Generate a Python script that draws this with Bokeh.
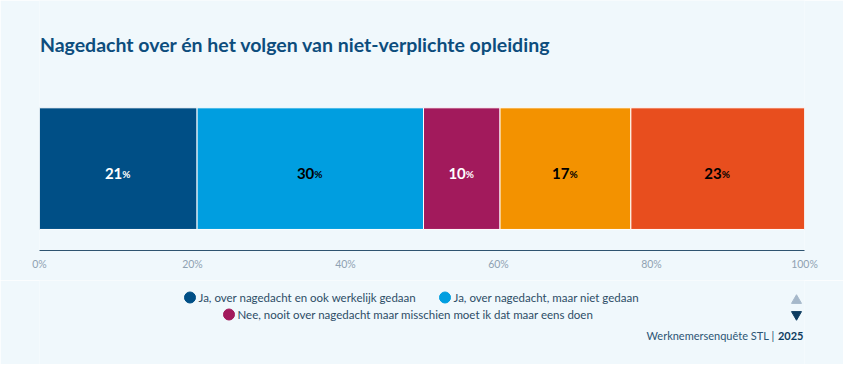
from bokeh.plotting import figure
from bokeh.models import ColumnDataSource, Range1d, Label, LinearAxis, FixedTicker
from bokeh.layouts import column
from bokeh.core.properties import value
from bokeh.embed import file_html
from bokeh.resources import INLINE

# ---- data ----
series_values = [20.6, 29.6, 10.0, 17.1, 22.7]
series_colors = ["#004f86", "#009ee0", "#a21a5c", "#f39200", "#e84e1e"]
label_colors = ["#ffffff", "#000000", "#ffffff", "#000000", "#000000"]
legend_labels = [
    "Ja, over nagedacht en ook werkelijk gedaan",
    "Ja, over nagedacht, maar niet gedaan",
    "Nee, nooit over nagedacht maar misschien moet ik dat maar eens doen",
]
tick_values = [0, 20, 40, 60, 80, 100]
tick_labels = ["0%", "20%", "40%", "60%", "80%", "100%"]
title_text = "Nagedacht over én het volgen van niet-verplichte opleiding"
credit_text = "Werknemersenquête STL |"
credit_year = "2025"

BG = "#f0f8fc"
FONT = "Lato"

starts, ends, mids = [], [], []
acc = 0.0
for v in series_values:
    starts.append(acc)
    ends.append(acc + v)
    mids.append(acc + v / 2)
    acc += v
nums = [f"{round(v)}" for v in series_values]

src = ColumnDataSource(dict(left=starts, right=ends, mid=mids, num=nums,
                            pct=["%"] * len(nums), fill=series_colors, tc=label_colors,
                            y=[0] * len(nums)))

p = figure(width=843, height=280, output_backend="svg", toolbar_location=None,
           x_range=Range1d(0, 100), y_range=Range1d(-0.673, 1.382),
           x_axis_location=None, y_axis_location=None,
           min_border_left=39, min_border_right=39, min_border_top=0, min_border_bottom=30)
p.background_fill_color = BG
p.border_fill_color = BG
p.outline_line_color = None
p.xgrid.grid_line_color = None
p.ygrid.grid_line_color = None

p.hbar(y="y", left="left", right="right", height=1, fill_color="fill",
       line_color="#ffffff", line_width=1, source=src)
p.text(x="mid", y="y", text="num", text_align="right", text_baseline="alphabetic",
       x_offset=4, y_offset=5, text_font_size="15px", text_font_style="bold",
       text_color="tc", text_font=value(FONT), source=src)
p.text(x="mid", y="y", text="pct", text_align="left", text_baseline="alphabetic",
       x_offset=4, y_offset=5, text_font_size="10px", text_font_style="bold",
       text_color="tc", text_font=value(FONT), source=src)

ax = LinearAxis(ticker=FixedTicker(ticks=tick_values),
                major_label_overrides={t: l for t, l in zip(tick_values, tick_labels)})
ax.axis_line_color = "#2f5470"
ax.axis_line_width = 1
ax.major_tick_line_color = None
ax.minor_tick_line_color = None
ax.major_tick_out = 0
ax.major_tick_in = 0
ax.major_label_standoff = 7
ax.major_label_text_font = FONT
ax.major_label_text_font_size = "10.5px"
ax.major_label_text_color = "#8fa2b2"
p.add_layout(ax, "below")

p.add_layout(Label(x=0.05, y=1.02, text=title_text, text_font=FONT,
                   text_font_size="19.5px", text_font_style="bold", text_color="#0d4d7d",
                   text_baseline="middle", text_align="left"))

# ---- legend / credits panel (same frame width as the chart) ----
q = figure(width=843, height=84, output_backend="svg", toolbar_location=None,
           x_range=Range1d(39, 804), y_range=Range1d(84, 0),
           x_axis_location=None, y_axis_location=None,
           min_border_left=39, min_border_right=39, min_border_top=0, min_border_bottom=0)
q.background_fill_color = BG
q.border_fill_color = BG
q.outline_line_color = None
q.xgrid.grid_line_color = None
q.ygrid.grid_line_color = None

leg_marker_x = [189.5, 444.5, 228.5]
leg_y = [17, 17, 34]
q.scatter(x=leg_marker_x, y=leg_y, size=11, color=series_colors[:3], marker="circle")
q.text(x=[x + 8.5 for x in leg_marker_x], y=leg_y, text=legend_labels, text_align="left",
       text_baseline="middle", text_font_size="11.5px", text_color="#2d4d66",
       text_font=value(FONT))

q.scatter(x=[796], y=[20], marker="triangle", size=10, color="#a6b8ca")
q.scatter(x=[796], y=[34], marker="inverted_triangle", size=10, color="#0d3c60")

q.text(x=[774], y=[55], text=[credit_text], text_align="right", text_baseline="middle",
       text_font_size="11px", text_color="#2d5675", text_font=value(FONT))
q.text(x=[803], y=[55], text=[credit_year], text_align="right", text_baseline="middle",
       text_font_size="11px", text_font_style="bold", text_color="#0d3c60", text_font=value(FONT))

layout = column(p, q, spacing=0)
open("out.html", "w").write(file_html(layout, INLINE))
